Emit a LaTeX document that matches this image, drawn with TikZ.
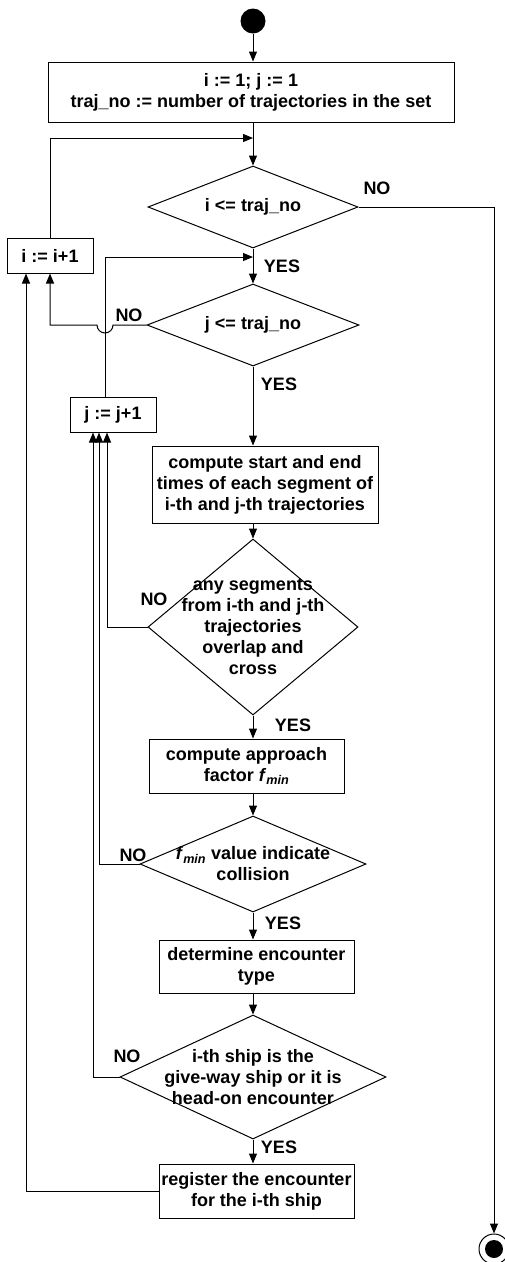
\documentclass[tikz,border=0pt]{standalone}
\usepackage{fontspec}
\setmainfont{Liberation Sans}
\usetikzlibrary{shapes.geometric,arrows.meta}

\begin{document}
\begin{tikzpicture}[x=1pt,y=1pt,line width=1pt,
		every node/.style={font=\fontsize{18}{21}\selectfont\bfseries},
		action/.style={draw, rectangle, align=center, inner sep=0pt},
		decision/.style={draw, diamond, align=center, shape aspect=2, inner sep=-25pt},
		flow/.style={-{Triangle[length=10pt,width=8pt]}},
		answer/.style={inner sep=0pt}]
	\useasboundingbox (0,0) rectangle (505,-1262);

	\node[circle, fill=black, minimum size=25pt, inner sep=0pt] (start) at (253,-21) {};
	\node[action, minimum width=406pt, minimum height=60pt] (init) at (251,-92) {i := 1; j := 1\\traj\_no := number of trajectories in the set};
	\node[decision, minimum width=210pt, minimum height=82pt] (condI) at (253,-207) {i <= traj\_no};
	\node[action, minimum width=86pt, minimum height=35pt] (incI) at (50,-255.5) {i := i+1};
	\node[decision, minimum width=212pt, minimum height=82pt] (condJ) at (253,-325) {j <= traj\_no};
	\node[action, minimum width=86pt, minimum height=35pt] (incJ) at (113,-414.5) {j := j+1};
	\node[action, minimum width=226pt, minimum height=77pt] (times) at (265,-484.5) {compute start and end\\times of each segment of\\i-th and j-th trajectories};
	\node[decision, minimum width=210pt, minimum height=176pt] (overlap) at (253,-627) {any segments\\from i-th and j-th\\trajectories\\overlap and\\cross};
	\node[action, minimum width=195pt, minimum height=54pt] (approach) at (246.5,-766) {compute approach\\factor \textit{f}\textsubscript{\textit{min}}};
	\node[decision, minimum width=226pt, minimum height=96pt] (collision) at (253,-864) {\textit{f}\textsubscript{\textit{min}} value indicate\\collision};
	\node[action, minimum width=195pt, minimum height=53pt] (encType) at (256.5,-966.5) {determine encounter\\type};
	\node[decision, minimum width=266pt, minimum height=124pt] (giveway) at (253,-1077) {i-th ship is the\\give-way ship or it is\\head-on encounter};
	\node[action, minimum width=195pt, minimum height=54pt] (register) at (256.5,-1191) {register the encounter\\for the i-th ship};
	\node[circle, draw, minimum size=30pt, inner sep=0pt] (stop) at (494,-1249) {};
	\fill (stop.center) circle (9);

	\node[answer] (noI) at (377,-188) {NO};
	\node[answer] (yesI) at (282,-266) {YES};
	\node[answer] (noJ) at (129,-315) {NO};
	\node[answer] (yesJ) at (279,-384) {YES};
	\node[answer] (noOverlap) at (154,-599) {NO};
	\node[answer] (yesOverlap) at (293,-725) {YES};
	\node[answer] (noCollision) at (133,-855) {NO};
	\node[answer] (yesCollision) at (283,-923) {YES};
	\node[answer] (noGiveway) at (127,-1056) {NO};
	\node[answer] (yesGiveway) at (279,-1147) {YES};

	\coordinate (joinI) at (253,-138);
	\coordinate (joinJ) at (253,-257);
	\coordinate (loopJ) at ([xshift=-8pt]incJ.north);
	\coordinate (hop) at (loopJ |- condJ.west);

	\draw[flow] (start) -- (start |- init.north);
	\draw[flow] (condI.north |- init.south) -- (condI.north);
	\draw[flow] (incI.north) |- (joinI);
	\draw[flow] (condI.east) -| (stop.north);
	\draw[flow] (condI.south) -- (condJ.north);
	\draw[flow] (loopJ) |- (joinJ);
	\draw[flow] (condJ.west) -- ([xshift=8pt]hop) arc[start angle=0, end angle=-180, radius=8pt] -- (incI.south |- hop) -- (incI.south);
	\draw[flow] (condJ.south) -- (condJ.south |- times.north);
	\draw[flow] (overlap.north |- times.south) -- (overlap.north);
	\draw[flow] (overlap.west) -| ([xshift=-6pt]incJ.south);
	\draw[flow] (overlap.south) -- (overlap.south |- approach.north);
	\draw[flow] (collision.north |- approach.south) -- (collision.north);
	\draw[flow] (collision.west) -| ([xshift=-14pt]incJ.south);
	\draw[flow] (collision.south) -- (collision.south |- encType.north);
	\draw[flow] (giveway.north |- encType.south) -- (giveway.north);
	\draw[flow] (giveway.west) -| ([xshift=-20pt]incJ.south);
	\draw[flow] (giveway.south) -- (giveway.south |- register.north);
	\draw[flow] (register.west) -| ([xshift=-24pt]incI.south);
\end{tikzpicture}
\end{document}
